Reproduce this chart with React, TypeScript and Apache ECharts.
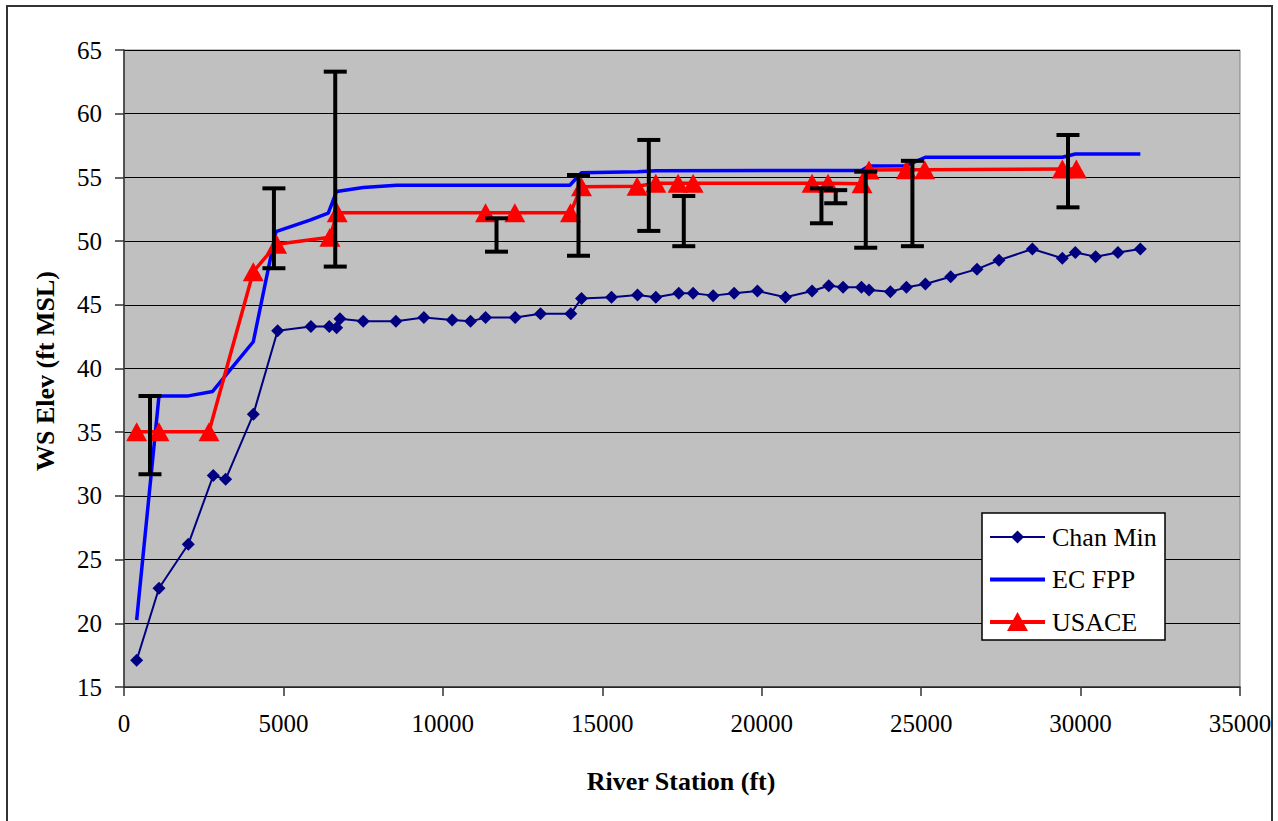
import React, { useEffect, useRef } from "react";
import * as echarts from "echarts";

const chanStation = [397, 1097, 2016, 2800, 3188, 4055, 4818, 5862, 6437, 6668, 6772, 7503, 8527, 9405, 10293, 10869, 11339, 12268, 13063, 14013, 14348, 15289, 16104, 16678, 17399, 17849, 18476, 19135, 19866, 20744, 21579, 22102, 22551, 23127, 23365, 24036, 24538, 25133, 25926, 26751, 27441, 28488, 29428, 29836, 30472, 31172, 31874];
const chanElev = [17.1, 22.75, 26.2, 31.6, 31.3, 36.4, 42.97, 43.3, 43.3, 43.2, 43.9, 43.7, 43.7, 44.0, 43.8, 43.7, 44.0, 44.0, 44.3, 44.3, 45.5, 45.6, 45.77, 45.6, 45.9, 45.9, 45.72, 45.9, 46.08, 45.6, 46.08, 46.5, 46.37, 46.37, 46.16, 46.03, 46.37, 46.63, 47.2, 47.8, 48.5, 49.38, 48.65, 49.1, 48.78, 49.1, 49.38];

const ecStation = [397, 1097, 2016, 2780, 3219, 4055, 4765, 5831, 6406, 6668, 7503, 8548, 13982, 14348, 16100, 16680, 23127, 23365, 24538, 25133, 29428, 29836, 31874];
const ecElev = [20.26, 37.84, 37.85, 38.2, 39.55, 42.1, 50.74, 51.65, 52.2, 53.9, 54.2, 54.38, 54.38, 55.37, 55.45, 55.53, 55.55, 55.9, 55.92, 56.58, 56.58, 56.84, 56.84];

const usStation = [397, 1097, 2665, 4055, 4786, 6458, 6688, 11339, 12258, 14003, 14348, 16092, 16678, 17378, 17849, 21579, 22081, 23146, 23365, 24538, 25111, 29428, 29867];
const usElev = [35.04, 35.04, 35.04, 47.6, 49.75, 50.3, 52.23, 52.23, 52.23, 52.23, 54.27, 54.3, 54.55, 54.55, 54.55, 54.55, 54.55, 54.5, 55.58, 55.6, 55.6, 55.66, 55.66];

const ebStation = [815, 4702, 6625, 11683, 14254, 16459, 17556, 21873, 22321, 23262, 24726, 29605];
const ebLow = [31.7, 47.87, 48.0, 49.17, 48.85, 50.8, 49.6, 51.4, 52.97, 49.48, 49.6, 52.65];
const ebHigh = [37.84, 54.14, 63.3, 51.79, 55.19, 57.94, 53.54, 54.14, 54.0, 55.45, 56.3, 58.33];

const legendNames = ["Chan Min", "EC FPP", "USACE"];

const FONT = "Liberation Serif";

export default function App() {
  const ref = useRef<HTMLDivElement>(null);
  useEffect(() => {
    if (!ref.current) return;
    const chart = echarts.init(ref.current, null, { renderer: "svg" });
    const zip = (a: number[], b: number[]) => a.map((v, i) => [v, b[i]]);
    const ebData = ebStation.map((x, i) => [x, ebLow[i], ebHigh[i]]);

    const lx1 = 990, lx2 = 1045, lcx = 1017.5, ltx = 1052;
    const ly = [537, 579.5, 622];
    const legendGraphics: any[] = [
      { type: "rect", shape: { x: 982, y: 513, width: 183, height: 127 }, style: { fill: "#fff", stroke: "#000", lineWidth: 1.5 }, z: 100 },
      { type: "line", shape: { x1: lx1, y1: ly[0], x2: lx2, y2: ly[0] }, style: { stroke: "#000080", lineWidth: 2 }, z: 101 },
      { type: "polygon", shape: { points: [[lcx, ly[0] - 6.5], [lcx + 6.5, ly[0]], [lcx, ly[0] + 6.5], [lcx - 6.5, ly[0]]] }, style: { fill: "#000080" }, z: 102 },
      { type: "line", shape: { x1: lx1, y1: ly[1], x2: lx2, y2: ly[1] }, style: { stroke: "#0000FF", lineWidth: 4 }, z: 101 },
      { type: "line", shape: { x1: lx1, y1: ly[2], x2: lx2, y2: ly[2] }, style: { stroke: "#FF0000", lineWidth: 4 }, z: 101 },
      { type: "polygon", shape: { points: [[lcx, ly[2] - 10], [lcx + 10.5, ly[2] + 9], [lcx - 10.5, ly[2] + 9]] }, style: { fill: "#FF0000" }, z: 102 },
    ];
    legendNames.forEach((n, i) => {
      legendGraphics.push({ type: "text", x: ltx, y: ly[i], z: 102, style: { text: n, font: `26px '${FONT}'`, fill: "#000", align: "left", verticalAlign: "middle" } });
    });

    chart.setOption({
      animation: false,
      backgroundColor: "#ffffff",
      textStyle: { fontFamily: FONT },
      grid: { left: 124, top: 50, width: 1116, height: 637, show: true, backgroundColor: "#C0C0C0", borderColor: "#808080", borderWidth: 1 },
      xAxis: {
        type: "value", min: 0, max: 35000, interval: 5000,
        axisLine: { show: true, onZero: false, lineStyle: { color: "#333", width: 1.5 } },
        axisTick: { show: true, length: 9, lineStyle: { color: "#333", width: 1.5 } },
        axisLabel: { show: true, margin: 24, fontFamily: FONT, fontSize: 25, color: "#000", formatter: (v: number) => String(v) },
        splitLine: { show: false },
      },
      yAxis: {
        type: "value", min: 15, max: 65, interval: 5,
        axisLine: { show: true, onZero: false, lineStyle: { color: "#333", width: 1.5 } },
        axisTick: { show: true, length: 9, lineStyle: { color: "#333", width: 1.5 } },
        axisLabel: { show: true, margin: 22, fontFamily: FONT, fontSize: 25, color: "#000", formatter: (v: number) => String(v) },
        splitLine: { show: true, lineStyle: { color: "#000", width: 1 } },
      },
      graphic: [
        { type: "rect", shape: { x: 7, y: 6, width: 1265, height: 830 }, style: { fill: "none", stroke: "#333", lineWidth: 2 }, silent: true },
        { type: "text", x: 681, y: 781, style: { text: "River Station (ft)", font: `bold 26px '${FONT}'`, fill: "#000", align: "center", verticalAlign: "middle" } },
        { type: "text", x: 45, y: 371, rotation: Math.PI / 2, style: { text: "WS Elev (ft MSL)", font: `bold 26px '${FONT}'`, fill: "#000", align: "center", verticalAlign: "middle" } },
        ...legendGraphics,
      ],
      series: [
        {
          name: "EC FPP", type: "line", data: zip(ecStation, ecElev), showSymbol: false, symbol: "none",
          lineStyle: { color: "#0000FF", width: 3.5 }, itemStyle: { color: "#0000FF" }, z: 2,
        },
        {
          name: "USACE", type: "line", data: zip(usStation, usElev), symbol: "triangle", symbolSize: [21, 19],
          lineStyle: { color: "#FF0000", width: 3.5 }, itemStyle: { color: "#FF0000" }, z: 3,
        },
        {
          name: "Chan Min", type: "line", data: zip(chanStation, chanElev), symbol: "diamond", symbolSize: 13,
          lineStyle: { color: "#000080", width: 2 }, itemStyle: { color: "#000080" }, z: 3,
        },
        {
          name: "err", type: "custom", data: ebData, z: 5,
          renderItem: (params: any, api: any) => {
            const x = api.value(0);
            const lo = api.coord([x, api.value(1)]);
            const hi = api.coord([x, api.value(2)]);
            const w = 11.5;
            const st = { stroke: "#000", lineWidth: 4 };
            return {
              type: "group",
              children: [
                { type: "line", shape: { x1: lo[0], y1: lo[1], x2: hi[0], y2: hi[1] }, style: st },
                { type: "line", shape: { x1: lo[0] - w, y1: lo[1], x2: lo[0] + w, y2: lo[1] }, style: st },
                { type: "line", shape: { x1: hi[0] - w, y1: hi[1], x2: hi[0] + w, y2: hi[1] }, style: st },
              ],
            };
          },
        },
      ],
    });
    return () => chart.dispose();
  }, []);
  return <div ref={ref} style={{ position: "fixed", left: 0, top: 0, width: 1278, height: 821 }} />;
}
